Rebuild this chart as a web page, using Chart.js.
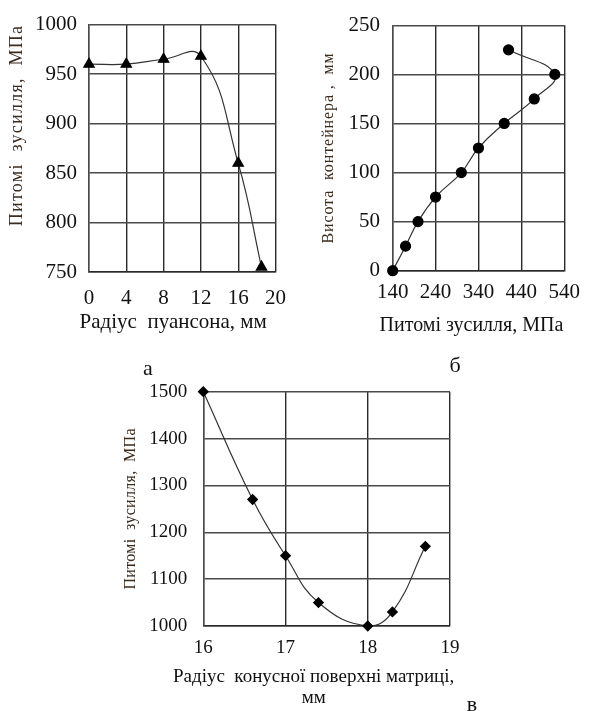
<!DOCTYPE html>
<html>
<head>
<meta charset="utf-8">
<script src="https://cdn.jsdelivr.net/npm/chart.js@4.4.1/dist/chart.umd.min.js"></script>
<style>
  body { margin: 0; background: #fff; width: 589px; height: 711px; overflow: hidden; position: relative; }
  canvas { position: absolute; }
  .tag { position: absolute; font: 22px "Liberation Serif", "Times New Roman", serif; color: #111; transform: translate(-50%, -50%); }
</style>
</head>
<body>
<canvas id="chartA" width="300" height="340" style="left:0;top:0"></canvas>
<canvas id="chartB" width="289" height="340" style="left:300px;top:0"></canvas>
<canvas id="chartC" width="400" height="351" style="left:100px;top:360px"></canvas>
<div class="tag" style="left:148px;top:368px">а</div>
<div class="tag" style="left:455px;top:365px">б</div>
<div class="tag" style="left:472px;top:704px">в</div>
<script>
// а) радіус пуансона
const radiusPunch = [0, 4, 8, 12, 16, 18.5];
const forcePunch = [960, 960, 965, 968, 860, 755];
const ticksRadiusPunch = [0, 4, 8, 12, 16, 20];
const ticksForcePunch = [750, 800, 850, 900, 950, 1000];

// б) висота контейнера
const forceCont = [140, 170, 199, 240, 300, 340, 400, 470, 518, 410];
const heightCont = [0, 25, 50, 75, 100, 125, 150, 175, 200, 225];
const ticksForceCont = [140, 240, 340, 440, 540];
const ticksHeightCont = [0, 50, 100, 150, 200, 250];

// в) радіус конусної поверхні
const radiusCone = [16, 16.6, 17, 17.4, 18, 18.3, 18.7];
const forceCone = [1500, 1270, 1150, 1050, 1000, 1030, 1170];
const ticksRadiusCone = [16, 17, 18, 19];
const ticksForceCone = [1000, 1100, 1200, 1300, 1400, 1500];

const serif = '"Liberation Serif", "Times New Roman", serif';
const gridX = '#2a2a2a';
const gridY = '#4a4a4a';

// підписи осей: розрядка для Y, зсув і без стиснення для X
const titleTweak = {
  id: 'titleTweak',
  beforeDraw(chart, args, opts) {
    const y = chart.scales.y, x = chart.scales.x;
    if (y._tweaked) return;
    const origY = y.drawTitle;
    y.drawTitle = function () {
      this.ctx.save();
      this.ctx.letterSpacing = (opts.spacing || 0) + 'px';
      origY.call(this);
      this.ctx.restore();
    };
    const origX = x.drawTitle;
    x.drawTitle = function () {
      const l = this.left, r = this.right, d = opts.shift || 0;
      this.left = l - 120 + d;
      this.right = r + 120 + d;
      origX.call(this);
      this.left = l;
      this.right = r;
    };
    y._tweaked = true;
  }
};

const makeChart = (id, xs, ys, cfg) => {
  const ctx = document.getElementById(id).getContext('2d');
  return new Chart(ctx, {
    type: 'line',
    data: {
      datasets: [{
        data: xs.map((x, i) => ({ x: x, y: ys[i] })),
        borderColor: '#333',
        borderWidth: 1.2,
        backgroundColor: '#000',
        pointBackgroundColor: '#000',
        pointBorderColor: '#000',
        pointStyle: cfg.marker,
        pointRadius: cfg.radius,
        tension: 0.45,
        clip: false
      }]
    },
    plugins: [titleTweak],
    options: {
      responsive: false,
      animation: false,
      devicePixelRatio: 1,
      layout: { padding: cfg.padding },
      plugins: {
        legend: { display: false },
        tooltip: { enabled: false },
        titleTweak: { spacing: cfg.spacing, shift: cfg.xShift }
      },
      scales: {
        x: {
          type: 'linear', min: cfg.xTicks[0], max: cfg.xTicks[cfg.xTicks.length - 1],
          afterBuildTicks: a => { a.ticks = cfg.xTicks.map(v => ({ value: v })); },
          afterFit: a => { a.height = cfg.xHeight; },
          grid: { color: gridX, lineWidth: 1.4, drawTicks: false },
          border: { color: gridX, width: 1.4 },
          ticks: { color: '#111', font: { family: serif, size: cfg.tickSize }, padding: cfg.xPad, maxRotation: 0,
                   callback: v => String(v) },
          title: { display: true, text: cfg.xTitle, color: '#111',
                   font: { family: serif, size: cfg.xTitleSize, lineHeight: cfg.xLine || 1.2 },
                   padding: { top: 0, bottom: cfg.xTitlePad } }
        },
        y: {
          min: cfg.yTicks[0], max: cfg.yTicks[cfg.yTicks.length - 1],
          afterBuildTicks: a => { a.ticks = cfg.yTicks.map(v => ({ value: v })); },
          afterFit: a => { a.width = cfg.yWidth; },
          grid: { color: gridY, lineWidth: 1.4, drawTicks: false },
          border: { color: gridY, width: 1.4 },
          ticks: { color: '#111', font: { family: serif, size: cfg.tickSize }, padding: cfg.yPad,
                   callback: v => String(v) },
          title: { display: true, text: cfg.yTitle, color: '#3b2b1f', align: cfg.yAlign || 'center',
                   font: { family: serif, size: cfg.yTitleSize || 16 },
                   padding: { top: cfg.yTitlePad, bottom: 0 } }
        }
      }
    }
  });
};

makeChart('chartA', radiusPunch, forcePunch, {
  marker: 'triangle', radius: 6,
  padding: { top: 19, right: 17, left: 0, bottom: 0 },
  xTicks: ticksRadiusPunch, yTicks: ticksForcePunch,
  xHeight: 68, yWidth: 89, tickSize: 21, xPad: 14, yPad: 12,
  xTitle: 'Радіус  пуансона, мм', xTitleSize: 21, xTitlePad: 5.4, xShift: -9,
  yTitle: 'Питомі  зусилля,  МПа', yTitleSize: 18, yTitlePad: 6.2, yAlign: 'end', spacing: 1.3
});

makeChart('chartB', forceCont, heightCont, {
  marker: 'circle', radius: 5,
  padding: { top: 19, right: 18.3, left: 0, bottom: 0 },
  xTicks: ticksForceCont, yTicks: ticksHeightCont,
  xHeight: 69.3, yWidth: 92.7, tickSize: 21, xPad: 9, yPad: 12.7,
  xTitle: 'Питомі зусилля, МПа', xTitleSize: 20, xTitlePad: 2, xShift: -7,
  yTitle: 'Висота  контейнера ,  мм', yTitleSize: 16, yTitlePad: 19.4, spacing: 0.9
});

makeChart('chartC', radiusCone, forceCone, {
  marker: 'rectRot', radius: 4.8,
  padding: { top: 31.7, right: 50, left: 0, bottom: 0 },
  xTicks: ticksRadiusCone, yTicks: ticksForceCone,
  xHeight: 85, yWidth: 103.3, tickSize: 19, xPad: 11, yPad: 16,
  xTitle: ['Радіус  конусної поверхні матриці,', 'мм'], xTitleSize: 19, xTitlePad: 2.5, xLine: '21px', xShift: -13,
  yTitle: 'Питомі  зусилля,  МПа', yTitleSize: 16, yTitlePad: 21.4, spacing: 0.3
});
</script>
</body>
</html>
